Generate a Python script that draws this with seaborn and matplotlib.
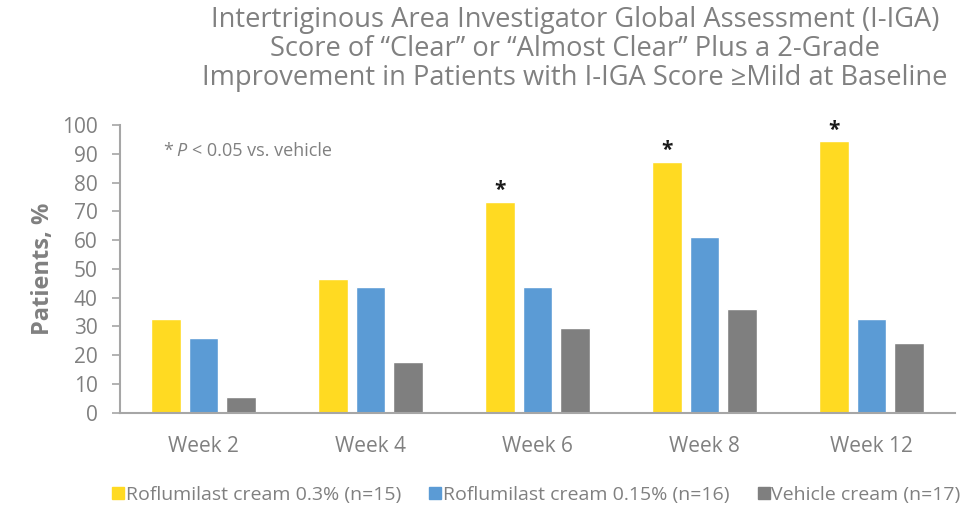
import matplotlib
matplotlib.use("Agg")
import matplotlib.pyplot as plt
from matplotlib.lines import Line2D
import seaborn as sns
import pandas as pd

weeks = ["Week 2", "Week 4", "Week 6", "Week 8", "Week 12"]
series_names = ["Roflumilast cream 0.3% (n=15)",
                "Roflumilast cream 0.15% (n=16)",
                "Vehicle cream (n=17)"]
rof_03 = [32.6, 46.5, 73.3, 87.1, 94.3]
rof_015 = [26.0, 43.7, 43.6, 61.0, 32.4]
vehicle = [5.6, 17.6, 29.3, 36.1, 24.2]
significant = [False, False, True, True, True]
yticks = list(range(0, 101, 10))

title = ("Intertriginous Area Investigator Global Assessment (I-IGA)\n"
         "Score of \u201cClear\u201d or \u201cAlmost Clear\u201d Plus a 2-Grade\n"
         "Improvement in Patients with I-IGA Score \u2265Mild at Baseline")

colors = ["#FFDA22", "#5B9BD5", "#7F7F7F"]
text_gray = "#808080"
axis_gray = "#A6A6A6"

sns.set_style("white")
plt.rcParams["font.family"] = ["Open Sans", "DejaVu Sans"]

rows = []
for vals, name in zip([rof_03, rof_015, vehicle], series_names):
    for w, v in zip(weeks, vals):
        rows.append({"week": w, "series": name, "value": v})
df = pd.DataFrame(rows)

fig = plt.figure(figsize=(9.72, 5.09), dpi=100)
ax = fig.add_axes([120/972, 1-412.7/509, (955-120)/972, (412.7-125)/509])

sns.barplot(data=df, x="week", y="value", hue="series", order=weeks,
            hue_order=series_names, palette=colors, width=0.67, gap=0.2,
            ax=ax, legend=False, errorbar=None, saturation=1)

ax.set_ylim(0, 100)
ax.set_xlim(-0.5, len(weeks) - 0.5)
ax.set_yticks(yticks)
ax.set_yticklabels([str(t) for t in yticks], fontsize=15, color=text_gray)
ax.tick_params(axis="y", length=6, width=1.2, color=axis_gray, pad=10, left=True)
ax.tick_params(axis="x", length=0, pad=17, labelsize=15, labelcolor=text_gray)
ax.set_xlabel("")
ax.set_ylabel("Patients, %", fontsize=17, fontweight="bold", color=text_gray, labelpad=5)
for s in ["top", "right"]:
    ax.spines[s].set_visible(False)
for s in ["left", "bottom"]:
    ax.spines[s].set_color(axis_gray)
    ax.spines[s].set_linewidth(1.5)

# significance stars above 0.3% bars
bars03 = ax.patches[:len(weeks)]
for bar, sig in zip(bars03, significant):
    if sig:
        ax.annotate("*", (bar.get_x() + bar.get_width()/2, bar.get_height()),
                    xytext=(0, 0.5), textcoords="offset points", ha="center",
                    va="bottom", fontsize=15, fontweight="bold", color="#1a1a1a")

fig.text(163/972, 1-151/509, "*", fontsize=13, color=text_gray, va="center", ha="left")
fig.text(176/972, 1-151/509, "P", fontsize=13, fontstyle="italic", color=text_gray,
         va="center", ha="left")
fig.text(192/972, 1-151/509, "< 0.05 vs. vehicle", fontsize=13, color=text_gray,
         va="center", ha="left")

fig.text(575/972, 1-49/509, title, ha="center", va="center", fontsize=19.6,
         color=text_gray, linespacing=1.03)

handles = [Line2D([0], [0], marker="s", linestyle="none", markersize=9,
                  markerfacecolor=c, markeredgecolor=c) for c in colors]
fig.legend(handles, series_names, loc="center", bbox_to_anchor=(537/972, 1-495/509),
           ncol=3, frameon=False, fontsize=14, labelcolor=text_gray,
           handlelength=0.5, handletextpad=0.15, columnspacing=1.5)

fig.savefig("out.png", dpi=100)
